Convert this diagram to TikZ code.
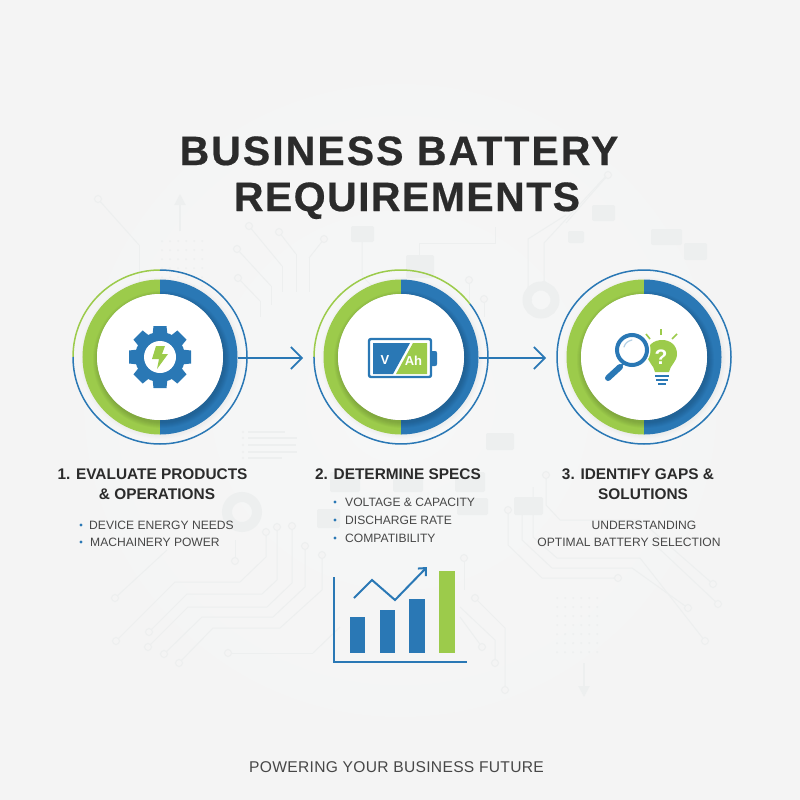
\documentclass[tikz,border=0pt]{standalone}
\usepackage{fontspec}
\setmainfont{Liberation Sans}
\usepackage{xcolor}
\usetikzlibrary{arrows.meta}
\definecolor{barblue}{HTML}{2A78B5}
\definecolor{bargreen}{HTML}{9CCB4B}
\definecolor{inkdark}{HTML}{2B2B2B}
\definecolor{inkbody}{HTML}{474747}
\definecolor{faint}{HTML}{EDEFEF}
\definecolor{paper}{HTML}{F4F4F4}
\definecolor{paperglow}{HTML}{F6F7F7}

\begin{document}
\begin{tikzpicture}[x=1pt,y=-1pt,
    titletext/.style={font=\fontsize{41}{41}\selectfont\bfseries\addfontfeature{FakeBold=0.5},text=inkdark,inner sep=0pt,anchor=base},
    headtext/.style={font=\fontsize{15.4}{15.4}\selectfont\bfseries,text=inkdark,inner sep=0pt},
    bodytext/.style={font=\fontsize{12.1}{12.1}\selectfont,text=inkbody,inner sep=0pt,anchor=west},
    bandnode/.style={circle,minimum size=155pt,inner sep=0pt},
    flowline/.style={barblue,line width=1.6pt,-{Straight Barb[length=11pt,width=22pt,line width=1.6pt]}},
    trace/.style={faint,line width=1pt},
    pad/.style={faint,line width=1pt,fill=paper},
    ghostbox/.style={fill=faint,rounded corners=2pt}]
    \useasboundingbox (0,0) rectangle (800,800);
    \fill[paper] (0,0) rectangle (800,800);
    \shade[inner color=paperglow,outer color=paper] (20,20) rectangle (780,780);
    % circuit board behind everything
    \foreach \a/\b/\c/\d in {98/199/139/245,249/226/282/266,279/232/296/254,324/239/309/258,237/249/271/286,238/278/260/301,608/175/566/223,
        115/598/167/550,228/653/313/653,464/558/464/590,718/604/650/540} {
        \draw[trace] (\a,\b) -- (\c,\d);
        \draw[pad] (\a,\b) circle (3.5);
    }
    \draw[trace] (139,245) -- (139,292);
    \draw[trace] (282,266) -- (282,292);
    \draw[trace] (296,254) -- (296,292);
    \draw[trace] (309,258) -- (309,292);
    \draw[trace] (271,286) -- (271,305);
    \draw[trace] (260,301) -- (260,317);
    \draw[trace] (419,255) -- (419,243) -- (495,243) -- (495,227);
    \draw[trace] (362,242) -- (362,276) -- (382,296);
    \draw[trace] (469,280) -- (469,305);
    \draw[trace] (484,299) -- (484,317);
    \draw[trace] (528,300) -- (528,239) -- (566,215);
    \draw[trace] (544,285) -- (544,243) -- (606,176);
    \draw[trace] (116,641) -- (175,582) -- (240,582) -- (266,557) -- (266,532);
    \draw[trace] (149,632) -- (187,594) -- (262,594) -- (277,580) -- (277,527);
    \draw[trace] (148,647) -- (188,607) -- (267,607) -- (292,583) -- (292,526);
    \draw[trace] (164,654) -- (202,617) -- (273,617) -- (305,587) -- (305,546);
    \draw[trace] (179,663) -- (213,628) -- (280,628) -- (322,590) -- (322,555);
    \draw[trace] (313,653) -- (340,627);
    \draw[trace] (235,561) -- (235,540);
    \draw[trace] (618,578) -- (542,578) -- (508,545) -- (508,510);
    \draw[trace] (688,608) -- (632,568) -- (552,568) -- (522,540) -- (522,513);
    \draw[trace] (705,641) -- (640,558) -- (557,558) -- (533,537) -- (533,487);
    \draw[trace] (713,584) -- (640,520) -- (560,520) -- (546,505) -- (546,475);
    \draw[trace] (475,598) -- (505,628) -- (505,690);
    \draw[trace] (460,607) -- (495,640) -- (495,663);
    \draw[trace] (460,617) -- (482,647);
    \foreach \a/\b in {116/641,149/632,148/647,164/654,179/663,266/532,277/527,292/526,305/546,322/555,
        235/561,618/578,688/608,705/641,713/584,508/510,546/475,475/598,505/690,495/663,482/647,
        528/300,544/285,469/280,484/299} {
        \draw[pad] (\a,\b) circle (3.5);
    }
    \foreach \a in {162,170,...,202} {
        \foreach \b in {241,250,...,286} {
            \fill[faint] (\a,\b) circle (1);
        }
    }
    \foreach \a in {557,565,...,597} {
        \foreach \b in {598,607,...,653} {
            \fill[faint] (\a,\b) circle (1);
        }
    }
    \draw[faint,line width=2pt,-{Triangle[length=11pt,width=11pt]}] (180,231) -- (180,194);
    \draw[faint,line width=2pt,-{Triangle[length=11pt,width=11pt]}] (584,663) -- (584,697);
    \foreach \a/\b/\c/\d in {351/226/374/242,406/255/434/278,592/205/615/221,651/229/682/245,684/243/707/260,568/231/584/243,
        486/433/514/450,514/497/543/515,317/509/340/528,457/498/488/515,330/472/360/492,393/472/423/492,455/472/485/492} {
        \fill[ghostbox] (\a,\b) rectangle (\c,\d);
    }
    \draw[faint,line width=10pt] (242,512) circle (15);
    \draw[faint,line width=9pt] (541,300) circle (14);
    \foreach \b/\c in {432/285,438/297,445/296,452/297,458/282} {
        \draw[faint,line width=1.5pt] (248,\b) -- (\c,\b);
        \fill[faint] (243,\b) circle (1.2);
    }
    % three rings
    \foreach \cname/\cx in {A/160,B/401,C/644} {
        \foreach \k in {1,...,4} {
            \fill[black,opacity=.008] (\cx+1,358) circle (77+\k);
        }
        \node[bandnode] (band\cname) at (\cx,357) {};
        \begin{scope}
            \clip (\cx-90,260) rectangle (\cx,450);
            \draw[bargreen,line width=14.5pt] (\cx,357) circle (70.25);
        \end{scope}
        \begin{scope}
            \clip (\cx,260) rectangle (\cx+90,450);
            \draw[barblue,line width=14.5pt] (\cx,357) circle (70.25);
        \end{scope}
        \foreach \k in {1,...,6} {
            \fill[black,opacity=.028] (\cx+1.5,359.5) circle (62.5+\k);
        }
        \fill[white] (\cx,357) circle (63);
    }
    \draw[bargreen,line width=1.5pt] (73,357) arc[start angle=180,end angle=270,radius=87];
    \draw[barblue,line width=1.5pt] (160,270) arc[start angle=270,end angle=540,radius=87];
    \draw[bargreen,line width=1.5pt] (314,357) arc[start angle=180,end angle=322.5,radius=87];
    \draw[barblue,line width=1.5pt] (470,304) arc[start angle=322.5,end angle=540,radius=87];
    \draw[barblue,line width=1.5pt] (644,357) circle (87);
    % connectors
    \coordinate (tipA) at (303,358);
    \coordinate (tipB) at (546,358);
    \draw[flowline] (bandA.east |- tipA) -- (tipA);
    \draw[flowline] (bandB.east |- tipB) -- (tipB);
    % gear
    \foreach \t in {0,45,...,315} {
        \fill[barblue,rotate around={\t:(160,357)}] (152,340) -- (153.5,326) -- (166.5,326) -- (168,340) -- cycle;
    }
    \fill[barblue] (160,357) circle (25);
    \fill[white] (160,357) circle (16);
    \fill[bargreen] (156,346) -- (165,346) -- (162,354) -- (168,354) -- (157,369) -- (159,359) -- (152,359) -- cycle;
    % battery
    \draw[barblue,line width=2.4pt,rounded corners=2pt] (369,339) rectangle (431,377);
    \fill[barblue,rounded corners=1pt] (431,351) -- (436,351) -- (437,352) -- (437,365) -- (436,366) -- (431,366) -- cycle;
    \fill[barblue] (373,343) -- (410,343) -- (393,374) -- (373,374) -- cycle;
    \fill[bargreen] (413,343) -- (427,343) -- (427,374) -- (396,374) -- cycle;
    \node[inner sep=0pt,text=white,font=\fontsize{13}{13}\selectfont\bfseries] (voltlabel) at (385,360) {V};
    \node[inner sep=0pt,text=white,font=\fontsize{13}{13}\selectfont\bfseries] (amplabel) at (413.5,361) {Ah};
    % bulb and lens
    \fill[bargreen] (655,372) .. controls (654,365) and (647,362) .. (647,354) .. controls (647,345) and (654,340) .. (662,340)
        .. controls (670,340) and (677,345) .. (677,354) .. controls (677,362) and (670,365) .. (669,372) -- cycle;
    \draw[barblue,line width=1.6pt] (655,376) -- (669,376);
    \draw[barblue,line width=1.6pt] (656,380) -- (668,380);
    \draw[barblue,line width=1.6pt] (658,384) -- (666,384);
    \draw[bargreen,line width=1.6pt] (661,329) -- (661,335);
    \draw[bargreen,line width=1.6pt] (646,334) -- (650,339);
    \draw[bargreen,line width=1.6pt] (677,334) -- (672,339);
    \node[inner sep=0pt,text=white,font=\fontsize{21}{21}\selectfont\bfseries] (asklabel) at (661,357) {?};
    \fill[white] (632,350) circle (18.5);
    \draw[barblue,line width=4pt] (632,350) circle (15);
    \draw[barblue,line width=6pt,line cap=round] (620,367) -- (608,378);
    \draw[barblue,line width=2pt] (621,366) -- (625,362);
    \draw[barblue!35,line width=1.2pt,line cap=round] (624,347) .. controls (625,343) and (628,341) .. (632,340);
    % captions
    \node[titletext] (titleA) at (399,165) {\addfontfeature{LetterSpace=5}BUSINESS BATTERY};
    \node[titletext] (titleB) at (407,211) {\addfontfeature{LetterSpace=3.5}REQUIREMENTS};
    \node[headtext] (headA) at (152.5,474) {1. EVALUATE PRODUCTS};
    \node[headtext] (headAb) at (157,494) {\&\ OPERATIONS};
    \node[headtext] (headB) at (398,474) {2. DETERMINE SPECS};
    \node[headtext] (headC) at (638,474) {3. IDENTIFY GAPS \&};
    \node[headtext] (headCb) at (643,494) {SOLUTIONS};
    \foreach \bname/\bx/\by/\blabel in {a/89/525/DEVICE ENERGY NEEDS,b/90/542/MACHAINERY POWER,
        c/345/502/VOLTAGE \& CAPACITY,d/345/520/DISCHARGE RATE,e/345/538/COMPATIBILITY} {
        \node[bodytext] (item\bname) at (\bx,\by) {\blabel};
    }
    \foreach \dx/\dy in {81/525,81/542,335/502,335/520,335/538} {
        \fill[barblue] (\dx,\dy) circle (1.7);
    }
    \node[bodytext,anchor=center] (noteA) at (644,525) {UNDERSTANDING};
    \node[bodytext,anchor=center] (noteB) at (629,542) {OPTIMAL BATTERY SELECTION};
    % chart
    \draw[barblue,line width=1.6pt] (334,577) -- (334,662) -- (467,662);
    \fill[barblue] (350,617) rectangle (365,653);
    \fill[barblue] (380,610) rectangle (395,653);
    \fill[barblue] (409,599) rectangle (425,653);
    \fill[bargreen] (439,571) rectangle (455,653);
    \draw[barblue,line width=2pt,-{Straight Barb[length=6pt,width=11pt,line width=2pt]}] (354,598) -- (372,580) -- (395,600) -- (427,567);
    \node[inner sep=0pt,text=inkbody,font=\fontsize{15.6}{15.6}\selectfont\addfontfeature{LetterSpace=2}] (footer) at (396.5,767) {POWERING YOUR BUSINESS FUTURE};
\end{tikzpicture}
\end{document}
